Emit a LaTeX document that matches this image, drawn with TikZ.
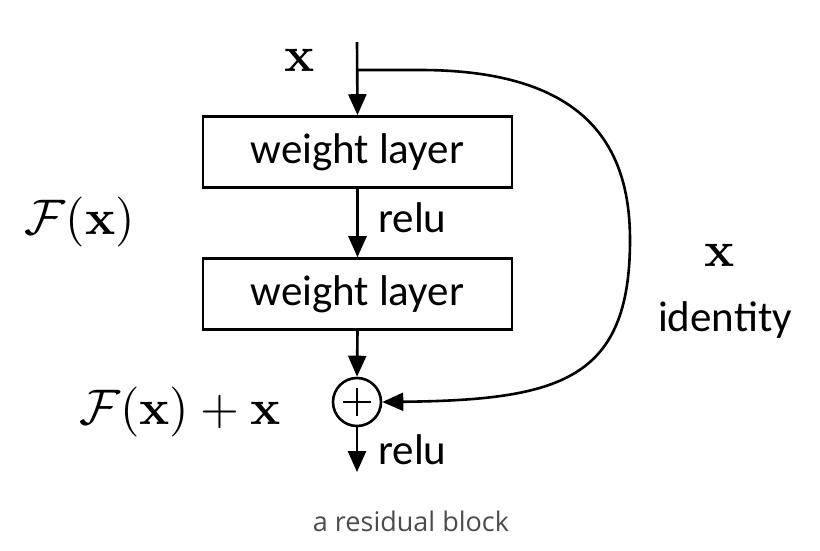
\documentclass[tikz,border=0pt]{standalone}
\usepackage[no-math]{fontspec}
\newfontfamily\carl{Carlito}
\newfontfamily\capf{Open Sans}
\usetikzlibrary{arrows.meta,calc}
\tikzset{
  layerbox/.style={draw, line width=2.6pt, minimum width=309pt, minimum height=71pt, inner sep=0pt, font=\carl\fontsize{43}{47}\selectfont},
  flow/.style={line width=2.6pt, -{Triangle[length=21pt,width=18pt]}},
  lbl/.style={font=\carl\fontsize{43}{47}\selectfont, inner sep=0pt},
  mlbl/.style={font=\fontsize{10}{12}\selectfont, inner sep=0pt, scale=5.0},
  sumnode/.style={draw, circle, line width=2.6pt, minimum size=48pt, inner sep=0pt}
}
\begin{document}
\begin{tikzpicture}[x=1pt,y=-1pt]
\useasboundingbox (0,0) rectangle (820,550);
\coordinate (in) at (357,42);
\node[layerbox] (w1) at (357.5,152) {weight layer};
\node[layerbox] (w2) at (357.5,294) {weight layer};
\node[sumnode] (sum) at (357,402) {};
\draw[line width=2.8pt] ($(sum.center)+(-14,0)$) -- ($(sum.center)+(14,0)$);
\draw[line width=2.8pt] ($(sum.center)+(0,-14)$) -- ($(sum.center)+(0,14)$);
\coordinate (out) at (357,472);
\coordinate (br) at (357,70);
\draw[flow] (in) -- (w1.north);
\draw[flow] (w1.south) -- (w2.north);
\draw[flow] (w2.south) -- (sum.north);
\draw[flow] (sum.south) -- (out);
\draw[flow] (br) -- (420,70) .. controls (590,70) and (630,150) .. (630,240) .. controls (630,380) and (560,400) .. (sum.east);
\node[mlbl] (xin) at (300,60) {$\mathbf{x}$};
\node[lbl, anchor=west] (r1) at (378,218) {relu};
\node[lbl, anchor=west] (r2) at (378,450) {relu};
\node[mlbl] (fx) at (80,222) {$\mathcal{F}(\mathbf{x})$};
\node[mlbl] (fxx) at (180,412) {$\mathcal{F}(\mathbf{x})+\mathbf{x}$};
\node[mlbl] (xid) at (720,255) {$\mathbf{x}$};
\node[lbl] (id) at (725,320) {identity};
\node[font=\capf\fontsize{27}{31}\selectfont, text=black!70, inner sep=0pt] (cap) at (411,521) {a residual block};
\end{tikzpicture}
\end{document}
